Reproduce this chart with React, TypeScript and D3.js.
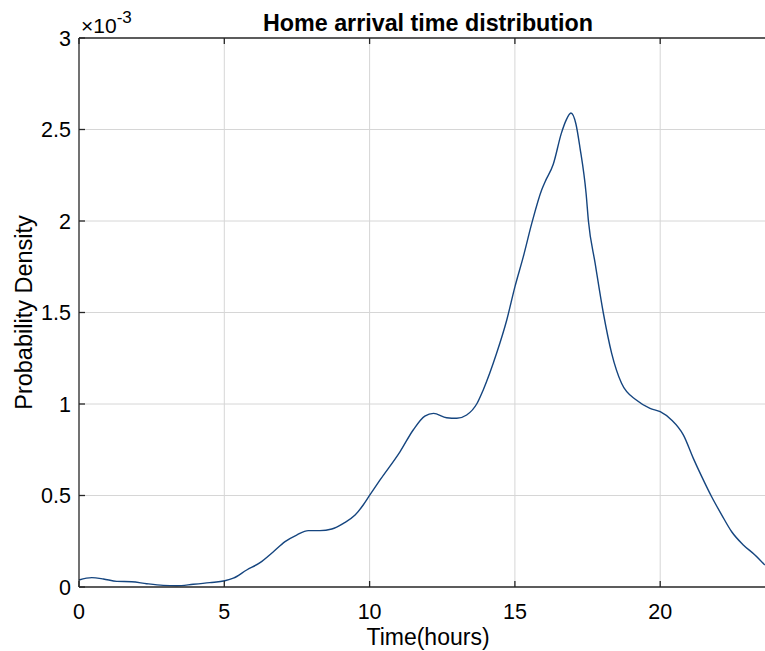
import React from "react";
import * as d3 from "d3";

const hours = [0.0, 0.44, 0.84, 1.3, 1.81, 2.33, 2.9, 3.36, 3.93, 4.5, 5.02, 5.31, 5.77, 6.23, 6.69, 7.09, 7.49, 7.89, 8.29, 8.7, 9.1, 9.5, 9.78, 10.01, 10.36, 11.05, 11.5, 11.9, 12.2, 12.65, 13.0, 13.34, 13.7, 13.91, 14.37, 14.72, 15.0, 15.29, 15.58, 15.92, 16.04, 16.32, 16.6, 16.76, 16.93, 17.1, 17.24, 17.45, 17.53, 17.76, 18.04, 18.33, 18.67, 19.19, 19.65, 20.0, 20.39, 20.8, 21.14, 21.43, 21.77, 22.12, 22.46, 22.86, 23.26, 23.6];
const density = [0.038, 0.051, 0.044, 0.031, 0.029, 0.018, 0.009, 0.007, 0.015, 0.024, 0.034, 0.048, 0.093, 0.133, 0.193, 0.248, 0.284, 0.308, 0.308, 0.317, 0.348, 0.393, 0.448, 0.503, 0.585, 0.74, 0.858, 0.934, 0.949, 0.925, 0.922, 0.94, 1.004, 1.077, 1.277, 1.459, 1.64, 1.805, 1.987, 2.17, 2.215, 2.31, 2.48, 2.55, 2.59, 2.53, 2.4, 2.15, 2.0, 1.77, 1.5, 1.277, 1.113, 1.02, 0.976, 0.958, 0.913, 0.83, 0.703, 0.603, 0.493, 0.393, 0.302, 0.23, 0.175, 0.12];
const xTicks = [0, 5, 10, 15, 20];
const yTicks = [0, 0.5, 1, 1.5, 2, 2.5, 3];
const yTickLabels = ["0", "0.5", "1", "1.5", "2", "2.5", "3"];

const W = 765, H = 651;
const L = 79, T = 38, B = 587;
const pxPerHour = 29.06;
const R = L + 24 * pxPerHour;

export default function App() {
  const x = d3.scaleLinear().domain([0, 24]).range([L, R]);
  const y = d3.scaleLinear().domain([0, 3]).range([B, T]);
  const pts = hours.map((h, i) => [h, density[i]] as [number, number]);
  const line = d3.line<[number, number]>().x(d => x(d[0])).y(d => y(d[1])).curve(d3.curveMonotoneX);
  const font = "'Liberation Sans', Arial, Helvetica, sans-serif";
  const axisColor = "#262626";
  return (
    <svg width={W} height={H} style={{ position: "absolute", left: 0, top: 0, background: "#fff", overflow: "hidden" }} fontFamily={font}>
      <rect x={0} y={0} width={W} height={H} fill="#fff" />
      {xTicks.filter(t => t > 0).map(t => (
        <line key={"gx" + t} x1={x(t)} x2={x(t)} y1={T} y2={B} stroke="#d6d6d6" strokeWidth={1} />
      ))}
      {yTicks.filter(t => t > 0 && t < 3).map(t => (
        <line key={"gy" + t} x1={L} x2={R} y1={y(t)} y2={y(t)} stroke="#d6d6d6" strokeWidth={1} />
      ))}
      <path d={line(pts) || ""} fill="none" stroke="#15457f" strokeWidth={1.4} />
      <line x1={L} x2={R} y1={B} y2={B} stroke={axisColor} strokeWidth={1.3} />
      <line x1={L} x2={R} y1={T} y2={T} stroke={axisColor} strokeWidth={1.3} />
      <line x1={L} x2={L} y1={T} y2={B} stroke={axisColor} strokeWidth={1.3} />
      <line x1={R} x2={R} y1={T} y2={B} stroke={axisColor} strokeWidth={1.3} />
      {xTicks.map(t => (
        <g key={"xt" + t}>
          <line x1={x(t)} x2={x(t)} y1={B} y2={B - 6} stroke={axisColor} strokeWidth={1.3} />
          <line x1={x(t)} x2={x(t)} y1={T} y2={T + 6} stroke={axisColor} strokeWidth={1.3} />
          <text x={x(t)} y={619} textAnchor="middle" fontSize={21.5} fill="#000">{t}</text>
        </g>
      ))}
      {yTicks.map((t, i) => (
        <g key={"yt" + t}>
          <line x1={L} x2={L + 6} y1={y(t)} y2={y(t)} stroke={axisColor} strokeWidth={1.3} />
          <text x={71} y={y(t)} dy="0.36em" textAnchor="end" fontSize={21.5} fill="#000">{yTickLabels[i]}</text>
        </g>
      ))}
      <text x={81} y={33} fontSize={21} fill="#000">
        ×10<tspan dy={-10} fontSize={17}>-3</tspan>
      </text>
      <text x={428} y={31} textAnchor="middle" fontSize={23.3} fontWeight="bold" fill="#000">Home arrival time distribution</text>
      <text x={428} y={645} textAnchor="middle" fontSize={23} fill="#000">Time(hours)</text>
      <text transform={`translate(32, ${(T + B) / 2}) rotate(-90)`} textAnchor="middle" fontSize={23.5} fill="#000">Probability Density</text>
    </svg>
  );
}
